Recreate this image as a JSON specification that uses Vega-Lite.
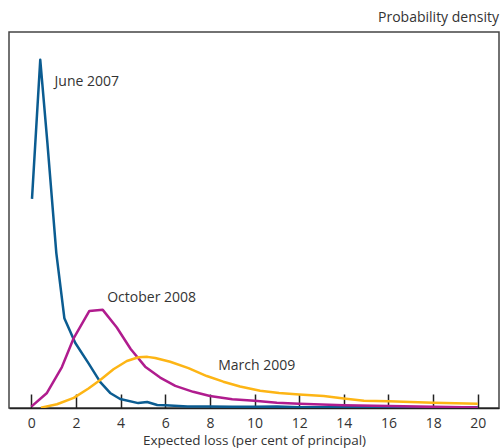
{
  "$schema": "https://vega.github.io/schema/vega-lite/v6.json",
  "width": 490,
  "height": 376,
  "autosize": "none",
  "padding": {"left": 9, "top": 32, "right": 1, "bottom": 40},
  "background": "white",
  "config": {
    "view": {"stroke": "#444", "strokeWidth": 1.5},
    "font": "Open Sans"
  },
  "title": {"text": "Probability density", "anchor": "end", "fontSize": 14, "fontWeight": "normal", "color": "#333", "offset": 7, "font": "Open Sans"},
  "datasets": {
    "curves": [
      {"series": "June 2007", "x": 0.03, "y": 55.6},
      {"series": "June 2007", "x": 0.40, "y": 92.6},
      {"series": "June 2007", "x": 0.72, "y": 70.5},
      {"series": "June 2007", "x": 1.12, "y": 41.2},
      {"series": "June 2007", "x": 1.48, "y": 23.9},
      {"series": "June 2007", "x": 1.97, "y": 17.3},
      {"series": "June 2007", "x": 2.55, "y": 12.0},
      {"series": "June 2007", "x": 3.09, "y": 6.9},
      {"series": "June 2007", "x": 3.53, "y": 4.0},
      {"series": "June 2007", "x": 3.98, "y": 2.4},
      {"series": "June 2007", "x": 4.79, "y": 1.3},
      {"series": "June 2007", "x": 5.19, "y": 1.6},
      {"series": "June 2007", "x": 5.64, "y": 0.8},
      {"series": "June 2007", "x": 6.0, "y": 0.7},
      {"series": "June 2007", "x": 7.0, "y": 0.4},
      {"series": "June 2007", "x": 8.0, "y": 0.4},
      {"series": "June 2007", "x": 9.0, "y": 0.3},
      {"series": "June 2007", "x": 10.0, "y": 0.3},
      {"series": "June 2007", "x": 11.0, "y": 0.4},
      {"series": "June 2007", "x": 12.0, "y": 0.2},
      {"series": "June 2007", "x": 14.0, "y": 0.2},
      {"series": "June 2007", "x": 16.0, "y": 0.2},
      {"series": "June 2007", "x": 18.0, "y": 0.1},
      {"series": "June 2007", "x": 20.0, "y": 0.2},
      {"series": "October 2008", "x": 0.0, "y": 0.35},
      {"series": "October 2008", "x": 0.7, "y": 4.0},
      {"series": "October 2008", "x": 1.37, "y": 10.9},
      {"series": "October 2008", "x": 1.9, "y": 18.6},
      {"series": "October 2008", "x": 2.6, "y": 25.8},
      {"series": "October 2008", "x": 3.2, "y": 26.1},
      {"series": "October 2008", "x": 3.83, "y": 21.4},
      {"series": "October 2008", "x": 4.45, "y": 15.7},
      {"series": "October 2008", "x": 5.1, "y": 11.0},
      {"series": "October 2008", "x": 5.77, "y": 8.1},
      {"series": "October 2008", "x": 6.45, "y": 5.9},
      {"series": "October 2008", "x": 7.25, "y": 4.3},
      {"series": "October 2008", "x": 8.0, "y": 3.2},
      {"series": "October 2008", "x": 9.0, "y": 2.3},
      {"series": "October 2008", "x": 10.0, "y": 1.9},
      {"series": "October 2008", "x": 11.0, "y": 1.4},
      {"series": "October 2008", "x": 12.0, "y": 1.1},
      {"series": "October 2008", "x": 14.0, "y": 0.7},
      {"series": "October 2008", "x": 16.0, "y": 0.5},
      {"series": "October 2008", "x": 18.0, "y": 0.3},
      {"series": "October 2008", "x": 20.0, "y": 0.1},
      {"series": "March 2009", "x": 0.43, "y": 0.1},
      {"series": "March 2009", "x": 1.15, "y": 1.0},
      {"series": "March 2009", "x": 1.9, "y": 2.7},
      {"series": "March 2009", "x": 2.56, "y": 5.2},
      {"series": "March 2009", "x": 3.1, "y": 7.5},
      {"series": "March 2009", "x": 3.68, "y": 10.3},
      {"series": "March 2009", "x": 4.28, "y": 12.5},
      {"series": "March 2009", "x": 4.8, "y": 13.5},
      {"series": "March 2009", "x": 5.2, "y": 13.6},
      {"series": "March 2009", "x": 5.55, "y": 13.3},
      {"series": "March 2009", "x": 6.22, "y": 12.3},
      {"series": "March 2009", "x": 7.04, "y": 10.6},
      {"series": "March 2009", "x": 7.86, "y": 8.5},
      {"series": "March 2009", "x": 8.6, "y": 7.0},
      {"series": "March 2009", "x": 9.35, "y": 5.7},
      {"series": "March 2009", "x": 10.25, "y": 4.6},
      {"series": "March 2009", "x": 11.1, "y": 4.0},
      {"series": "March 2009", "x": 12.0, "y": 3.6},
      {"series": "March 2009", "x": 13.1, "y": 3.2},
      {"series": "March 2009", "x": 14.0, "y": 2.5},
      {"series": "March 2009", "x": 14.9, "y": 1.9},
      {"series": "March 2009", "x": 16.0, "y": 1.8},
      {"series": "March 2009", "x": 18.0, "y": 1.4},
      {"series": "March 2009", "x": 20.0, "y": 1.1}
    ],
    "labels": [
      {"label": "June 2007", "x": 1.04, "y": 86.7},
      {"label": "October 2008", "x": 3.4, "y": 29.3},
      {"label": "March 2009", "x": 8.37, "y": 11.2}
    ]
  },
  "layer": [
    {
      "data": {"name": "curves"},
      "mark": {"type": "line", "strokeWidth": 2.5, "strokeJoin": "round", "clip": true},
      "encoding": {
        "x": {
          "field": "x", "type": "quantitative",
          "scale": {"domain": [-1, 20.95], "nice": false, "zero": false},
          "axis": {
            "title": "Expected loss (per cent of principal)",
            "values": [0, 2, 4, 6, 8, 10, 12, 14, 16, 18, 20],
            "tickSize": -14, "tickColor": "#222", "tickWidth": 1.5,
            "domainColor": "#222", "domainWidth": 1.5,
            "labelFontSize": 14, "labelColor": "#333", "labelPadding": 22, "labelFlush": false,
            "titleFontSize": 13.5, "titleFontWeight": "normal", "titleColor": "#333", "titlePadding": 3,
            "grid": false
          }
        },
        "y": {
          "field": "y", "type": "quantitative",
          "scale": {"domain": [0, 100], "nice": false},
          "axis": null
        },
        "color": {
          "field": "series", "type": "nominal",
          "scale": {"domain": ["June 2007", "October 2008", "March 2009"], "range": ["#0b5c91", "#b01c8e", "#fdb515"]},
          "legend": null
        },
        "order": {"field": "x", "type": "quantitative"}
      }
    },
    {
      "data": {"name": "labels"},
      "mark": {"type": "text", "align": "left", "baseline": "middle", "fontSize": 14, "color": "#333", "font": "Open Sans"},
      "encoding": {
        "x": {"field": "x", "type": "quantitative"},
        "y": {"field": "y", "type": "quantitative"},
        "text": {"field": "label"}
      }
    }
  ]
}
